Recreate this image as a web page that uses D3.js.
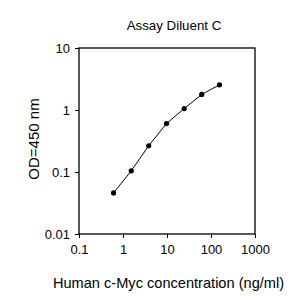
<!DOCTYPE html>
<html><head><meta charset="utf-8">
<script src="https://cdn.jsdelivr.net/npm/d3@7"></script>
<style>body{margin:0;background:#fff}svg{display:block}text{font-family:"Liberation Sans",Arial,sans-serif;fill:#000}</style>
</head><body>
<script>
const concentrations = [0.61, 1.54, 3.84, 9.75, 24.6, 61.5, 156];
const odValues = [0.046, 0.1045, 0.265, 0.604, 1.055, 1.78, 2.55];
const xTicks = [0.1, 1, 10, 100, 1000];
const yTicks = [0.01, 0.1, 1, 10];
const title = "Assay Diluent C";
const xTitle = "Human c-Myc concentration (ng/ml)";
const yTitle = "OD=450 nm";

const W = 296, H = 298;
const m = {left: 79, right: 41, top: 48, bottom: 64};
const svg = d3.select("body").append("svg").attr("width", W).attr("height", H);
const x = d3.scaleLog().domain([0.1, 1000]).range([m.left, W - m.right]);
const y = d3.scaleLog().domain([0.01, 10]).range([H - m.bottom, m.top]);

const fmt = d => String(d);
svg.append("g").attr("transform", `translate(0,${H - m.bottom})`)
  .call(d3.axisBottom(x).tickValues(xTicks).tickFormat(fmt).tickSize(4).tickPadding(7))
  .call(g => g.selectAll("text").attr("font-size", 13).attr("font-family", "Liberation Sans, Arial, sans-serif"));
svg.append("g").attr("transform", `translate(${m.left},0)`)
  .call(d3.axisLeft(y).tickValues(yTicks).tickFormat(fmt).tickSize(4).tickPadding(5))
  .call(g => g.selectAll("text").attr("font-size", 13).attr("font-family", "Liberation Sans, Arial, sans-serif"));
svg.selectAll(".domain").remove();
svg.selectAll(".tick line").attr("stroke", "#000");
svg.append("rect").attr("x", m.left).attr("y", m.top)
  .attr("width", W - m.right - m.left).attr("height", H - m.bottom - m.top)
  .attr("fill", "none").attr("stroke", "#000").attr("stroke-width", 1.3);

const data = concentrations.map((c, i) => [c, odValues[i]]);
svg.append("path").datum(data)
  .attr("d", d3.line().x(d => x(d[0])).y(d => y(d[1])))
  .attr("fill", "none").attr("stroke", "#000").attr("stroke-width", 1);
svg.selectAll("circle.pt").data(data).join("circle")
  .attr("cx", d => x(d[0])).attr("cy", d => y(d[1])).attr("r", 2.6).attr("fill", "#000");

svg.append("text").attr("x", 174).attr("y", 30).attr("text-anchor", "middle").attr("font-size", 13.3).text(title);
svg.append("text").attr("x", 168.5).attr("y", 288).attr("text-anchor", "middle").attr("font-size", 14.6).text(xTitle);
svg.append("text").attr("transform", "translate(38.5,139) rotate(-90)").attr("text-anchor", "middle").attr("font-size", 15).text(yTitle);
</script>
</body></html>
